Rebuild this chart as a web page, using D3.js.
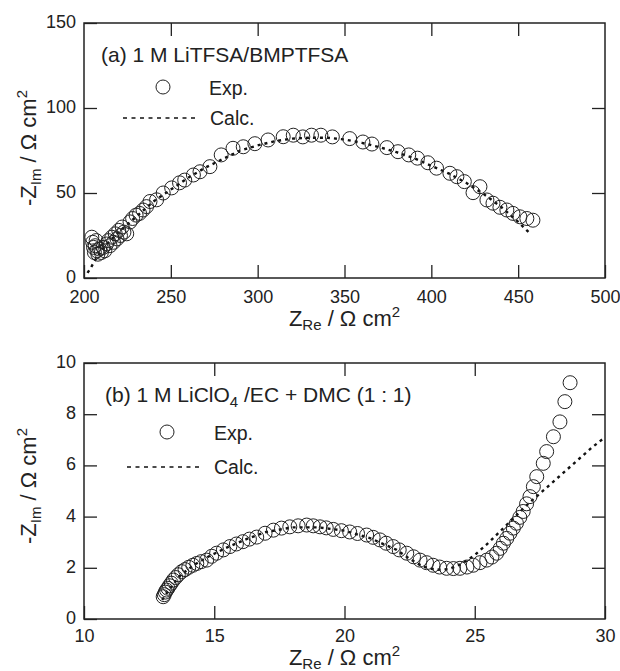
<!DOCTYPE html>
<html><head><meta charset="utf-8">
<script src="https://cdn.jsdelivr.net/npm/d3@7"></script>
<style>
body{margin:0;background:#fff;}
text{font-family:"Liberation Sans",Arial,sans-serif;fill:#222;}
</style></head>
<body><svg id="c" width="620" height="671"></svg>
<script>
// ---- data: panel (a) ----
const aXTicks=[200,250,300,350,400,450,500];
const aYTicks=[0,50,100,150];
const aExp=[[204.5,24],[205,21],[205.5,18],[206,15],[206.5,19],[207,22],[207.5,16],[208,14],[209,17],[210,15],[211,18],[212,16],[213,20],[214,22],[215,19],[216,24],[217,21],[218,26],[219,23],[220,28],[221,25],[222,30],[223,27],[224.6,26],[226.5,33],[228,35],[230,37],[232,38],[234,40],[236,42],[238,45],[241.8,46],[245.6,50],[250.5,53],[255,56],[258,57.6],[263,60.6],[266.8,62.5],[272.5,65.5],[279,72.4],[285.8,76.3],[291.7,77.2],[298.4,79],[306,81.2],[314.7,83.1],[320.5,84],[326,83],[331,84],[336.4,84],[343,83],[353,82],[360.6,80],[365.8,78.8],[374.4,76.7],[380.8,74.3],[387,72.4],[392,70.5],[398,67.8],[403,64.6],[410.7,61.6],[414.7,59.6],[419,56.7],[428,53.7],[424,50.2],[432,45.9],[435.5,44],[439.5,41.6],[443.5,40],[447,38],[451,36],[455,35],[458.5,34]];
const aCalc=[[202,3],[204,6],[206,10],[208,13],[210,16],[215,22],[220,27],[230,36],[240,45],[250,52],[260,59],[270,65],[280,70],[290,75],[300,78],[310,80.5],[320,82],[330,82.5],[340,82.5],[350,81.5],[360,79.5],[370,77],[380,74],[390,70.5],[400,66],[410,61.5],[420,56],[430,49.5],[440,42],[450,33],[456,27]];
// ---- data: panel (b) ----
const bXTicks=[10,15,20,25,30];
const bYTicks=[0,2,4,6,8,10];
const bExp=[[13.04,0.87],[13.08,0.95],[13.12,1.05],[13.17,1.13],[13.22,1.2],[13.28,1.3],[13.35,1.4],[13.43,1.52],[13.52,1.62],[13.62,1.73],[13.75,1.85],[13.88,1.93],[14.02,2.02],[14.18,2.1],[14.33,2.17],[14.5,2.24],[14.71,2.3],[14.9,2.45],[15.09,2.57],[15.35,2.7],[15.6,2.83],[15.85,2.93],[16.1,3.02],[16.35,3.12],[16.63,3.2],[16.95,3.35],[17.27,3.47],[17.58,3.55],[17.9,3.6],[18.22,3.64],[18.55,3.67],[18.8,3.64],[19.06,3.6],[19.3,3.56],[19.57,3.5],[19.88,3.45],[20.2,3.4],[20.5,3.34],[20.85,3.28],[21.1,3.19],[21.36,3.09],[21.6,2.96],[21.87,2.83],[22.1,2.7],[22.39,2.57],[22.65,2.43],[22.9,2.3],[23.15,2.2],[23.4,2.1],[23.65,2.03],[23.92,1.98],[24.18,1.97],[24.43,1.98],[24.7,2.03],[24.94,2.1],[25.2,2.2],[25.46,2.3],[25.66,2.42],[25.84,2.57],[25.98,2.76],[26.1,2.96],[26.23,3.15],[26.35,3.35],[26.48,3.55],[26.6,3.74],[26.73,3.97],[26.86,4.2],[26.99,4.5],[27.12,4.78],[27.25,5.17],[27.38,5.56],[27.63,6.08],[27.76,6.54],[28.02,7.12],[28.27,7.7],[28.46,8.49],[28.66,9.23]];
const bCalc=[[13,0.75],[13.3,1.2],[13.7,1.7],[14.2,2.1],[14.8,2.45],[15.5,2.8],[16.3,3.15],[17,3.4],[18,3.58],[19,3.58],[20,3.45],[21,3.15],[22,2.7],[22.5,2.35],[23,2.05],[23.5,1.92],[24,1.95],[24.5,2.15],[25,2.5],[25.5,2.95],[26,3.45],[26.5,3.95],[27,4.45],[27.5,4.9],[28,5.35],[28.5,5.8],[29,6.25],[29.5,6.7],[30,7.1]];

const svg=d3.select("#c");
const L=84,R=605,TICK=13;

function panel(o){
  const x=d3.scaleLinear().domain(o.xd).range([L,R]);
  const y=d3.scaleLinear().domain(o.yd).range([o.bottom,o.top]);
  const g=svg.append("g");
  const ax=(a,t,fmt)=>a.tickValues(t).tickSizeInner(-TICK).tickSizeOuter(0).tickFormat(fmt);
  const styleAx=s=>{s.select(".domain").remove();s.selectAll("line").attr("stroke","#222").attr("stroke-width",1.3);
    s.selectAll("text").attr("font-size",18).attr("fill","#222").attr("font-family","Liberation Sans, Arial, sans-serif");};
  g.append("g").attr("transform",`translate(0,${o.bottom})`).call(ax(d3.axisBottom(x),o.xt,d3.format("d")).tickPadding(o.xpad)).call(styleAx);
  g.append("g").attr("transform",`translate(0,${o.top})`).call(ax(d3.axisTop(x),o.xt.slice(1,-1),"")).call(styleAx);
  g.append("g").attr("transform",`translate(${L},0)`).call(ax(d3.axisLeft(y),o.yt,d3.format("d")).tickPadding(8)).call(styleAx)
    .selectAll("text").attr("dy","0.25em");
  g.append("g").attr("transform",`translate(${R},0)`).call(ax(d3.axisRight(y),o.yt.slice(1,-1),"")).call(styleAx);
  g.append("rect").attr("x",L).attr("y",o.top).attr("width",R-L).attr("height",o.bottom-o.top)
    .attr("fill","none").attr("stroke","#222").attr("stroke-width",1.5);
  // calc line
  g.append("path").datum(o.calc).attr("fill","none").attr("stroke","#111").attr("stroke-width",2.4)
    .attr("stroke-dasharray","3,4").attr("d",d3.line().x(d=>x(d[0])).y(d=>y(d[1])));
  // exp circles
  g.selectAll("circle.e").data(o.exp).join("circle").attr("class","e")
    .attr("cx",d=>x(d[0])).attr("cy",d=>y(d[1])).attr("r",7)
    .attr("fill","none").attr("stroke","#222").attr("stroke-width",1);
  // y title
  const yt=g.append("text").attr("transform",`translate(${o.ytx},${o.yty}) rotate(-90)`)
    .attr("text-anchor","middle").attr("font-size",22);
  yt.append("tspan").text("-Z");
  yt.append("tspan").attr("font-size",15).attr("dy",5).text("Im");
  yt.append("tspan").attr("dy",-5).text(" / \u03A9 cm");
  yt.append("tspan").attr("font-size",15).attr("dy",-9).text("2");
  // x title
  const xt=g.append("text").attr("x",(L+R)/2).attr("y",o.xty).attr("text-anchor","middle").attr("font-size",22);
  xt.append("tspan").text("Z");
  xt.append("tspan").attr("font-size",15).attr("dy",4).text("Re");
  xt.append("tspan").attr("dy",-4).text(" / \u03A9 cm");
  xt.append("tspan").attr("font-size",15).attr("dy",-9).text("2");
  return g;
}

const ga=panel({xd:[200,500],yd:[0,150],top:23,bottom:278,xt:aXTicks,yt:aYTicks,exp:aExp,calc:aCalc,ytx:36,yty:148,xty:326,xpad:12});
ga.append("text").attr("x",101).attr("y",62).attr("font-size",21).text("(a) 1 M LiTFSA/BMPTFSA");
ga.append("circle").attr("cx",163).attr("cy",87).attr("r",7).attr("fill","none").attr("stroke","#222");
ga.append("text").attr("x",209).attr("y",95).attr("font-size",19.5).text("Exp.");
ga.append("line").attr("x1",123).attr("x2",199).attr("y1",118).attr("y2",118).attr("stroke","#111").attr("stroke-width",1.5).attr("stroke-dasharray","4,4.5");
ga.append("text").attr("x",210).attr("y",125).attr("font-size",19.5).text("Calc.");

const gb=panel({xd:[10,30],yd:[0,10],top:363,bottom:619,xt:bXTicks,yt:bYTicks,exp:bExp,calc:bCalc,ytx:36,yty:486,xty:665,xpad:10});
const tb=gb.append("text").attr("x",105).attr("y",402).attr("font-size",21);
tb.append("tspan").text("(b) 1 M LiClO");
tb.append("tspan").attr("font-size",15).attr("dy",5).text("4");
tb.append("tspan").attr("dy",-5).text(" /EC + DMC (1 : 1)");
gb.append("circle").attr("cx",167).attr("cy",432).attr("r",7).attr("fill","none").attr("stroke","#222");
gb.append("text").attr("x",214).attr("y",440).attr("font-size",19.5).text("Exp.");
gb.append("line").attr("x1",127).attr("x2",202).attr("y1",467).attr("y2",467).attr("stroke","#111").attr("stroke-width",1.5).attr("stroke-dasharray","4,4.5");
gb.append("text").attr("x",214).attr("y",474).attr("font-size",19.5).text("Calc.");
</script></body></html>
